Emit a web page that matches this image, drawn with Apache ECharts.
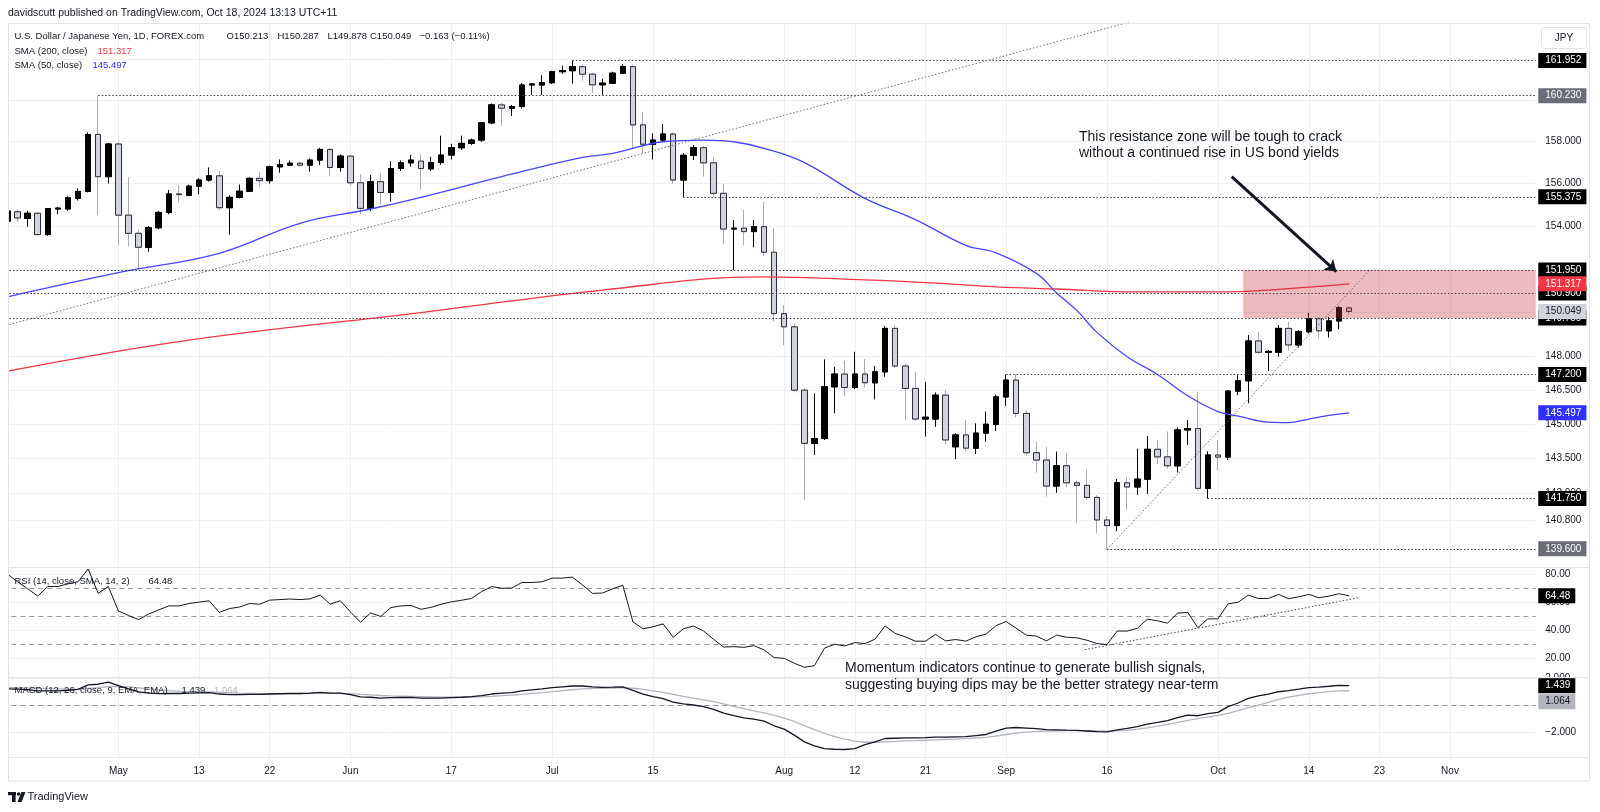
<!DOCTYPE html>
<html><head><meta charset="utf-8">
<script src="https://cdn.jsdelivr.net/npm/echarts@6/dist/echarts.min.js"></script>
<style>html,body{margin:0;padding:0;background:#fff}#c{width:1600px;height:812px}</style>
</head><body><div id="c"></div><script>
// ---------------- DATA ----------------
const dates = [
'2024-04-16','2024-04-17','2024-04-18','2024-04-19','2024-04-22','2024-04-23','2024-04-24','2024-04-25','2024-04-26','2024-04-29','2024-04-30',
'2024-05-01','2024-05-02','2024-05-03','2024-05-06','2024-05-07','2024-05-08','2024-05-09','2024-05-10','2024-05-13','2024-05-14','2024-05-15','2024-05-16','2024-05-17','2024-05-20','2024-05-21','2024-05-22','2024-05-23','2024-05-24','2024-05-27','2024-05-28','2024-05-29','2024-05-30','2024-05-31',
'2024-06-03','2024-06-04','2024-06-05','2024-06-06','2024-06-07','2024-06-10','2024-06-11','2024-06-12','2024-06-13','2024-06-14','2024-06-17','2024-06-18','2024-06-19','2024-06-20','2024-06-21','2024-06-24','2024-06-25','2024-06-26','2024-06-27','2024-06-28',
'2024-07-01','2024-07-02','2024-07-03','2024-07-04','2024-07-05','2024-07-08','2024-07-09','2024-07-10','2024-07-11','2024-07-12','2024-07-15','2024-07-16','2024-07-17','2024-07-18','2024-07-19','2024-07-22','2024-07-23','2024-07-24','2024-07-25','2024-07-26','2024-07-29','2024-07-30','2024-07-31',
'2024-08-01','2024-08-02','2024-08-05','2024-08-06','2024-08-07','2024-08-08','2024-08-09','2024-08-12','2024-08-13','2024-08-14','2024-08-15','2024-08-16','2024-08-19','2024-08-20','2024-08-21','2024-08-22','2024-08-23','2024-08-26','2024-08-27','2024-08-28','2024-08-29','2024-08-30',
'2024-09-02','2024-09-03','2024-09-04','2024-09-05','2024-09-06','2024-09-09','2024-09-10','2024-09-11','2024-09-12','2024-09-13','2024-09-16','2024-09-17','2024-09-18','2024-09-19','2024-09-20','2024-09-23','2024-09-24','2024-09-25','2024-09-26','2024-09-27','2024-09-30',
'2024-10-01','2024-10-02','2024-10-03','2024-10-04','2024-10-07','2024-10-08','2024-10-09','2024-10-10','2024-10-11','2024-10-14','2024-10-15','2024-10-16','2024-10-17','2024-10-18'];
const futureDates = ['2024-10-21','2024-10-22','2024-10-23','2024-10-24','2024-10-25','2024-10-28','2024-10-29','2024-10-30','2024-10-31','2024-11-01','2024-11-04','2024-11-05','2024-11-06','2024-11-07','2024-11-08','2024-11-11','2024-11-12','2024-11-13'];

// [open, high, low, close]
const ohlc = [
[154.23,154.79,154.14,154.70],[154.67,154.75,154.20,154.38],[154.36,154.72,153.97,154.60],[154.60,154.65,153.55,153.60],[153.60,154.85,153.55,154.82],
[154.80,154.90,154.55,154.84],[154.80,155.40,154.70,155.33],[155.30,155.78,155.20,155.63],[155.63,158.45,155.58,158.35],[158.35,160.23,154.50,156.33],
[156.33,157.95,156.00,157.89],[157.89,158.00,153.10,154.51],[154.51,156.30,153.05,153.66],[153.66,153.82,151.95,153.01],[153.01,154.00,152.80,153.92],
[153.92,154.70,153.85,154.64],[154.64,155.70,154.55,155.51],[155.51,155.93,155.13,155.48],[155.45,155.95,155.40,155.88],[155.88,156.25,155.50,156.17],
[156.17,156.77,156.10,156.37],[156.37,156.60,154.75,154.86],[154.86,155.45,153.60,155.35],[155.35,155.96,155.30,155.64],[155.64,156.30,155.60,156.25],
[156.25,156.57,155.85,156.14],[156.14,156.85,156.00,156.80],[156.80,157.15,156.52,156.90],[156.88,157.10,156.83,156.97],[156.97,157.05,156.80,156.88],
[156.88,157.20,156.57,157.12],[157.12,157.71,156.89,157.63],[157.63,157.70,156.36,156.77],[156.77,157.40,156.57,157.31],[157.31,157.35,155.90,156.04],
[156.04,156.45,154.55,154.83],[154.83,156.40,154.70,156.09],[156.09,156.50,155.00,155.58],[155.58,157.07,155.14,156.72],[156.72,157.10,156.60,156.99],
[156.99,157.37,156.80,157.12],[157.07,157.40,155.73,156.72],[156.70,157.28,156.60,157.00],[157.00,158.29,156.90,157.36],[157.36,157.90,157.15,157.71],
[157.71,158.29,157.60,157.92],[157.92,158.15,157.85,158.08],[158.08,158.95,158.00,158.91],[158.91,159.85,158.85,159.78],[159.78,159.90,158.76,159.62],
[159.62,159.78,159.24,159.70],[159.70,160.85,159.60,160.75],[160.75,160.83,160.26,160.80],[160.75,161.23,160.26,160.86],[160.86,161.45,160.80,161.40],
[161.40,161.70,161.30,161.45],[161.45,161.952,160.82,161.65],[161.65,161.75,160.97,161.28],[161.28,161.35,160.34,160.76],[160.76,161.06,160.26,160.84],
[160.84,161.40,160.80,161.33],[161.33,161.78,161.30,161.65],[161.65,161.75,157.68,158.81],[158.81,159.45,157.44,157.88],[157.88,158.40,157.15,158.08],
[158.08,158.85,158.00,158.37],[158.37,158.45,156.00,156.17],[156.17,157.45,155.375,157.35],[157.35,157.85,157.12,157.71],[157.71,157.80,156.33,156.99],
[156.99,157.27,155.40,155.54],[155.54,156.00,153.16,153.86],[153.86,154.28,151.95,153.90],[153.90,154.75,153.12,153.74],[153.74,154.28,153.01,153.97],
[153.97,155.14,152.60,152.78],[152.78,153.90,149.60,149.95],[149.95,150.34,148.52,149.35],[149.35,149.50,146.40,146.50],[146.50,146.60,141.70,144.15],
[144.15,146.36,143.64,144.36],[144.36,147.88,144.30,146.65],[146.65,147.55,145.47,147.22],[147.22,147.82,146.24,146.62],[146.62,148.22,146.55,147.22],
[147.22,147.90,146.62,146.83],[146.83,147.58,146.09,147.32],[147.32,149.38,147.10,149.28],[149.28,149.40,147.50,147.58],[147.58,147.70,145.18,146.58],
[146.58,147.32,145.15,145.22],[145.22,146.87,144.45,145.30],[145.22,146.40,144.88,146.28],[146.28,146.50,144.10,144.30],[144.00,144.60,143.45,144.52],
[144.52,145.18,143.80,143.94],[143.94,145.03,143.68,144.60],[144.60,145.55,144.22,144.99],[144.99,146.30,144.70,146.20],[146.20,147.20,145.80,146.95],
[146.95,147.22,145.30,145.47],[145.47,145.60,143.60,143.74],[143.74,144.22,142.87,143.42],[143.42,144.00,141.83,142.29],[142.29,143.79,142.00,143.17],
[143.17,143.71,142.24,142.43],[142.43,142.50,140.72,142.32],[142.32,143.00,141.70,141.80],[141.80,141.90,140.28,140.83],[140.83,141.00,139.58,140.59],
[140.59,142.60,140.35,142.43],[142.43,142.70,141.26,142.25],[142.25,143.92,141.90,142.59],[142.59,144.48,141.95,143.89],[143.89,144.30,143.25,143.56],
[143.56,144.67,143.05,143.17],[143.17,144.85,142.88,144.74],[144.74,145.18,144.08,144.80],[144.80,146.43,142.10,142.19],[142.19,143.80,141.75,143.64],
[143.64,144.30,142.98,143.55],[143.55,146.50,143.42,146.46],[146.46,147.17,146.28,146.92],[146.92,148.98,145.92,148.71],[148.71,149.13,148.10,148.20],
[148.20,148.30,147.36,148.24],[148.20,149.43,148.00,149.28],[149.28,149.58,148.27,148.53],[148.53,149.20,148.42,149.13],[149.13,149.99,149.05,149.72],
[149.72,149.80,148.83,149.17],[149.17,149.80,148.87,149.62],[149.62,150.29,149.24,150.22],[150.213,150.287,149.878,150.049]];

// SMA lines read at sample dates
const sma200 = [['2024-04-16',147.35],['2024-05-10',148.75],['2024-06-12',150.0],['2024-07-08',151.03],['2024-07-30',151.64],['2024-08-13',151.50],['2024-08-22',151.35],['2024-08-30',151.18],['2024-09-09',151.08],['2024-09-19',150.95],['2024-10-02',150.95],['2024-10-10',151.10],['2024-10-18',151.317]];
const sma50 = [['2024-04-16',150.72],['2024-05-01',151.83],['2024-05-15',152.73],['2024-05-27',154.13],['2024-06-05',154.8],['2024-06-12',155.35],['2024-06-24',156.33],['2024-07-04',157.25],['2024-07-09',157.44],['2024-07-16',158.0],['2024-07-22',158.08],['2024-07-25',158.0],['2024-07-30',157.68],['2024-08-05',157.0],['2024-08-13',155.3],['2024-08-20',154.3],['2024-08-27',153.1],['2024-08-30',152.75],['2024-09-05',151.8],['2024-09-09',150.9],['2024-09-11',150.1],['2024-09-13',149.1],['2024-09-18',148.0],['2024-09-23',147.2],['2024-09-26',146.25],['2024-10-01',145.55],['2024-10-03',145.35],['2024-10-08',145.08],['2024-10-10',145.06],['2024-10-14',145.22],['2024-10-16',145.38],['2024-10-18',145.497]];

const rsi = [
80,74.5,69.5,64.3,71.1,71.1,73,74.5,83.6,66.2,
71.1,53.7,50.5,47.6,51.5,54.5,57.3,57.3,59,60,
60.9,52.7,55.4,56.5,59,58.5,61.4,61.8,62.2,61.8,
62.3,65,58.5,61,53,45.7,52.3,49.8,56.1,57.3,
57.6,54.9,56.3,58.5,60.2,61.3,62.6,67.5,71.1,69.9,
70,74,74,74.5,77.1,77.1,77.8,72.3,66.2,66.5,
69.5,72,46,41,42.5,44.5,35,41,43,39.5,
33.5,28,28.3,27.8,29,26,20.5,20,16.5,13.6,
14.8,27.3,30,28.8,31.2,30.5,33.6,43,37.7,35.3,
32.2,32.2,37,32.4,33.4,32.2,35.3,37.2,43.3,46.2,
41.4,36.5,35.8,32.4,36.5,35,34.6,32.9,30.5,29.8,
39.4,39.4,41.4,47.9,46.7,45,52.2,52.7,41.8,48.1,
48.1,58.8,59.9,65,62.6,62.6,65.5,62.4,63.8,65.5,
63.1,64.3,66,64.48];

const macd = [
1.20,1.18,1.15,1.05,1.05,1.06,1.10,1.17,1.50,1.55,
1.70,1.45,1.20,0.98,0.88,0.85,0.86,0.86,0.88,0.90,
0.93,0.82,0.78,0.78,0.80,0.80,0.82,0.84,0.86,0.86,
0.88,0.94,0.88,0.88,0.78,0.60,0.58,0.52,0.55,0.56,
0.57,0.52,0.51,0.52,0.55,0.58,0.62,0.70,0.82,0.88,
0.93,1.05,1.13,1.20,1.30,1.36,1.42,1.42,1.36,1.32,
1.33,1.36,1.10,0.82,0.62,0.48,0.22,0.08,0.0,-0.12,
-0.32,-0.60,-0.80,-0.96,-1.05,-1.20,-1.55,-1.80,-2.25,-2.75,
-3.05,-3.25,-3.30,-3.32,-3.25,-2.95,-2.75,-2.50,-2.48,-2.46,
-2.45,-2.44,-2.40,-2.40,-2.38,-2.36,-2.28,-2.20,-1.95,-1.72,
-1.68,-1.72,-1.76,-1.84,-1.85,-1.88,-1.90,-1.94,-1.99,-2.00,
-1.85,-1.75,-1.62,-1.42,-1.30,-1.17,-0.95,-0.75,-0.80,-0.65,
-0.55,-0.12,0.15,0.50,0.68,0.82,0.99,1.08,1.18,1.29,
1.34,1.40,1.47,1.439];
const signal = [
1.32,1.30,1.28,1.25,1.22,1.20,1.18,1.18,1.24,1.30,
1.38,1.39,1.35,1.28,1.20,1.13,1.07,1.03,1.00,0.98,
0.97,0.94,0.91,0.88,0.87,0.85,0.85,0.85,0.85,0.85,
0.86,0.87,0.87,0.87,0.85,0.80,0.76,0.71,0.68,0.66,
0.64,0.62,0.60,0.58,0.58,0.58,0.59,0.61,0.65,0.70,
0.74,0.80,0.87,0.93,1.00,1.07,1.14,1.20,1.23,1.25,
1.27,1.29,1.25,1.17,1.06,0.94,0.80,0.65,0.52,0.39,
0.25,0.08,-0.10,-0.27,-0.43,-0.58,-0.78,-0.98,-1.23,-1.54,
-1.84,-2.12,-2.36,-2.55,-2.69,-2.78,-2.78,-2.75,-2.72,-2.68,
-2.66,-2.63,-2.60,-2.57,-2.54,-2.51,-2.46,-2.41,-2.32,-2.20,
-2.10,-2.02,-1.97,-1.94,-1.92,-1.91,-1.91,-1.92,-1.93,-1.95,
-1.93,-1.89,-1.80,-1.70,-1.58,-1.45,-1.30,-1.15,-1.02,-0.90,
-0.78,-0.62,-0.42,-0.20,0.00,0.20,0.42,0.58,0.72,0.84,
0.93,1.00,1.05,1.064];

// axis tick labels
const timeTicks = [['2024-05-01','May'],['2024-05-13','13'],['2024-05-22','22'],['2024-06-03','Jun'],['2024-06-17','17'],['2024-07-01','Jul'],['2024-07-15','15'],['2024-08-01','Aug'],['2024-08-12','12'],['2024-08-21','21'],['2024-09-02','Sep'],['2024-09-16','16'],['2024-10-01','Oct'],['2024-10-14','14'],['2024-10-23','23'],['2024-11-01','Nov']];
const priceTicks = [162, 160, 158, 156, 154, 152, 150, 148, 146.5, 145, 143.5, 142, 140.8];
const rsiTicks = [80, 60, 40, 20];
const rsiBands = [70, 50, 30];
const macdTicks = [2, 0, -2];

// horizontal levels: [price, start date or null = whole width]
const levels = [[161.952,'2024-07-03'],[160.230,'2024-04-29'],[155.375,'2024-07-18'],[151.950,null],[150.900,null],[149.750,null],[147.200,'2024-09-02'],[141.750,'2024-09-30'],[139.600,'2024-09-16']];
// price tags: [value, text, kind]
const priceTags = [[150.900,'150.900','level'],[149.750,'149.750','level'],[161.952,'161.952','level'],[160.230,'160.230','grey'],[155.375,'155.375','level'],[151.950,'151.950','level'],[147.200,'147.200','level'],[141.750,'141.750','level'],[139.600,'139.600','grey'],[151.317,'151.317','sma200'],[150.049,'150.049','last'],[145.497,'145.497','sma50']];
// trend lines in [bar index, value]
const trendLong = [[-0.5,149.37],[112,163.96]];
const trendSupport = [[109,139.58],[135,151.92]];
const rsiTrend = [[106.8,26.2],[134,63.2]];
const zone = [[122.5,151.95],[151.5,149.75]];
const arrow = [[121.36,156.33],[131.73,151.88]];

// ---------------- CHART ----------------
const FONT = "'Liberation Sans', Arial, sans-serif";
const TXT = '#131722';
const allCats = dates.concat(futureDates);
const N = allCats.length;
const BW = 10.088, GL = 2.386, GW = N * BW;
const tickMap = new Map(timeTicks);
const grids = [
  {left: GL, width: GW, top: 23, height: 544},
  {left: GL, width: GW, top: 567, height: 110},
  {left: GL, width: GW, top: 677, height: 80}
];
const tagStyle = {
  level: {bg:'#000000', fg:'#ffffff'}, grey: {bg:'#6a6d78', fg:'#ffffff'},
  sma200: {bg:'#f23645', fg:'#ffffff'}, sma50: {bg:'#2f2fff', fg:'#ffffff'},
  last: {bg:'#d1d4dc', fg:TXT}, macd: {bg:'#000000', fg:'#ffffff'}, sig: {bg:'#b2b5be', fg:TXT}
};
const baseLabel = {show:true, position:'end', distance:2.5, fontSize:10, fontFamily:FONT, padding:[2,5,2,7], lineHeight:11};

function gridSeries(xi, yi, ticks, fmt) {
  return {type:'line', xAxisIndex:xi, yAxisIndex:yi, data:[], silent:true, z:1,
    markLine:{z:1, silent:true, symbol:'none', animation:false, precision:4,
      lineStyle:{color:'#eef0f4', width:1, type:'solid'},
      label:Object.assign({}, baseLabel, {color:TXT, padding:[0,5,0,7]}),
      data: ticks.map(v => ({yAxis:v, label:{formatter: fmt(v)}}))
        .concat(timeTicks.map(t => ({xAxis:t[0], label:{show:false}})))}};
}
function tagSeries(xi, yi, tags) {
  return {type:'line', xAxisIndex:xi, yAxisIndex:yi, data:[], silent:true, z:9,
    markLine:{z:9, silent:true, symbol:'none', animation:false, precision:4,
      lineStyle:{color:'rgba(0,0,0,0)', width:1},
      label:Object.assign({}, baseLabel),
      data: tags.map(t => ({yAxis:t[0], label:Object.assign({formatter:t[1], color:tagStyle[t[2]].fg, backgroundColor:tagStyle[t[2]].bg}, t[3] ? {offset:[0, t[3]]} : {})}))}};
}
function dotted(xi, yi, pts, color, z) {
  return {type:'line', xAxisIndex:xi, yAxisIndex:yi, data:pts, silent:true, symbol:'none', showSymbol:false, z:z||7,
    lineStyle:{color:color, width:1, type:[1.5,2]}, animation:false};
}
const minus = v => (v < 0 ? '\u2212' : '') + Math.abs(v).toFixed(3);

const series = [];
// main pane
series.push(gridSeries(0, 0, priceTicks, v => v.toFixed(3)));
series.push({type:'candlestick', xAxisIndex:0, yAxisIndex:0, silent:true, z:3, barWidth:6,
  data: ohlc.map(r => [r[0], r[3], r[2], r[1]]),
  itemStyle:{color:'#000000', color0:'#d1d4dc', borderColor:'#000000', borderColor0:'#a8abb4', borderWidth:1}});
series.push({type:'candlestick', xAxisIndex:0, yAxisIndex:0, silent:true, z:4, barWidth:6,
  data: ohlc.map(r => [r[0], r[3], Math.min(r[0], r[3]), Math.max(r[0], r[3])]),
  itemStyle:{color:'#000000', color0:'#d1d4dc', borderColor:'#000000', borderColor0:'#2a2e39', borderWidth:1}});
series.push({type:'line', xAxisIndex:0, yAxisIndex:0, data:sma200, smooth:0.4, symbol:'none', silent:true, z:5, lineStyle:{color:'#f23645', width:1.3}});
series.push({type:'line', xAxisIndex:0, yAxisIndex:0, data:sma50, smooth:0.4, symbol:'none', silent:true, z:5, lineStyle:{color:'#4646ff', width:1.3}});
series.push({type:'line', xAxisIndex:1, yAxisIndex:0, data:[], silent:true, z:6,
  markArea:{z:6, silent:true, itemStyle:{color:'rgba(200,40,50,0.32)'}, data:[[{coord:zone[0]},{coord:zone[1]}]]}});
series.push({type:'line', xAxisIndex:1, yAxisIndex:0, data:[], silent:true, z:7,
  markLine:{z:7, silent:true, symbol:'none', animation:false, label:{show:false}, precision:4,
    lineStyle:{color:'#3d4049', width:1, type:[1.5,2]},
    data: levels.map(l => [{coord:[l[1] ? dates.indexOf(l[1]) : -0.5, l[0]]}, {coord:[N - 0.5, l[0]]}])}});
series.push(dotted(1, 0, trendLong, '#6a6d78'));
series.push(dotted(1, 0, trendSupport, '#6a6d78'));
series.push({type:'line', xAxisIndex:1, yAxisIndex:0, data:[], silent:true, z:8,
  markLine:{z:8, silent:true, symbol:['none','arrow'], symbolSize:11, animation:false, label:{show:false}, precision:4,
    lineStyle:{color:TXT, width:3, type:'solid'},
    data:[[{coord:arrow[0]},{coord:arrow[1]}]]}});
series.push(tagSeries(0, 0, priceTags));
// RSI pane
series.push(gridSeries(2, 1, rsiTicks, v => v.toFixed(2)));
series.push({type:'line', xAxisIndex:2, yAxisIndex:1, data:[], silent:true, z:2,
  markLine:{z:2, silent:true, symbol:'none', animation:false, label:{show:false},
    lineStyle:{color:'#9598a1', width:1, type:[5,4]}, data: rsiBands.map(v => ({yAxis:v}))}});
series.push({type:'line', xAxisIndex:2, yAxisIndex:1, data:rsi, symbol:'none', silent:true, z:5, lineStyle:{color:TXT, width:1}});
series.push(dotted(3, 1, rsiTrend, '#3d4049'));
series.push(tagSeries(2, 1, [[64.48,'64.48','level']]));
// MACD pane
series.push(gridSeries(4, 2, macdTicks, minus));
series.push({type:'line', xAxisIndex:4, yAxisIndex:2, data:[], silent:true, z:2,
  markLine:{z:2, silent:true, symbol:'none', animation:false, label:{show:false},
    lineStyle:{color:'#9598a1', width:1, type:[5,4]}, data:[{yAxis:0}]}});
series.push({type:'line', xAxisIndex:4, yAxisIndex:2, data:signal, symbol:'none', silent:true, z:5, lineStyle:{color:'#b2b5be', width:1.3}});
series.push({type:'line', xAxisIndex:4, yAxisIndex:2, data:macd, symbol:'none', silent:true, z:6, lineStyle:{color:TXT, width:1.3}});
series.push(tagSeries(4, 2, [[1.439,'1.439','macd'],[1.064,'1.064','sig',11]]));

const hiddenCat = gi => ({type:'category', gridIndex:gi, data:allCats, boundaryGap:true, show:false, axisLine:{show:false}, axisTick:{show:false}, axisLabel:{show:false}});
const hiddenVal = gi => ({type:'value', gridIndex:gi, min:-0.5, max:N - 0.5, show:false});

function T(x, y, text, o) {
  o = o || {};
  return {type:'text', x:x, y:y, z:o.z || 50, silent:true,
    style:{text:text, fill:o.color || TXT, fontSize:o.size || 9.5, fontFamily:FONT, align:o.align || 'left', verticalAlign:'middle', textVerticalAlign:'middle', fontWeight:o.weight || 'normal'}};
}
const L = (x1, y1, x2, y2, c) => ({type:'line', z:60, silent:true, shape:{x1, y1, x2, y2}, style:{stroke:c || '#e0e3eb', lineWidth:1}});

const graphics = [
  {type:'rect', z:58, silent:true, shape:{x:0, y:23, width:8.5, height:760}, style:{fill:'#ffffff'}},
  {type:'rect', z:60, silent:true, shape:{x:8.5, y:23.5, width:1581, height:757.5}, style:{fill:'none', stroke:'#e0e3eb', lineWidth:1}},
  L(8.5, 567.5, 1589.5, 567.5), L(8.5, 677.5, 1589.5, 677.5), L(8.5, 757.5, 1589.5, 757.5),
  {type:'rect', z:60, silent:true, shape:{x:1541.5, y:27.5, width:45, height:21, r:3}, style:{fill:'#ffffff', stroke:'#e0e3eb', lineWidth:1}},
  T(1564, 38.5, 'JPY', {align:'center', z:61, size:10}),
  T(8, 13.5, 'davidscutt published on TradingView.com, Oct 18, 2024 13:13 UTC+11', {size:10.5}),
  T(14.5, 36.5, 'U.S. Dollar / Japanese Yen, 1D, FOREX.com'),
  T(226.5, 36.5, 'O150.213'), T(277.5, 36.5, 'H150.287'), T(327.5, 36.5, 'L149.878'), T(370, 36.5, 'C150.049'),
  T(419.5, 36.5, '\u22120.163 (\u22120.11%)'),
  T(14.5, 51.5, 'SMA (200, close)'), T(97.5, 51.5, '151.317', {color:'#f23645'}),
  T(14.5, 65.5, 'SMA (50, close)'), T(92.5, 65.5, '145.497', {color:'#2f2fff'}),
  T(14.5, 581, 'RSI (14, close, SMA, 14, 2)'), T(148.5, 581, '64.48'),
  T(14.5, 690.5, 'MACD (12, 26, close, 9, EMA, EMA)'), T(181.5, 690.5, '1.439'), T(214, 690.5, '1.064', {color:'#b2b5be'}),
  T(1079, 136.7, 'This resistance zone will be tough to crack', {size:14}),
  T(1079, 153.3, 'without a continued rise in US bond yields', {size:14}),
  T(845, 668.5, 'Momentum indicators continue to generate bullish signals,', {size:14}),
  T(845, 685.5, 'suggesting buying dips may be the better strategy near-term', {size:14}),
  {type:'rect', z:60, silent:true, shape:{x:8, y:792, width:8, height:3.2}, style:{fill:TXT}},
  {type:'rect', z:60, silent:true, shape:{x:12, y:792, width:3.6, height:10}, style:{fill:TXT}},
  {type:'circle', z:60, silent:true, shape:{cx:18.6, cy:794, r:1.8}, style:{fill:TXT}},
  {type:'polygon', z:60, silent:true, shape:{points:[[21.5,792],[25.5,792],[21.5,802],[17.5,802]]}, style:{fill:TXT}},
  T(27.5, 797, 'TradingView', {size:11})
];

const option = {
  animation:false,
  backgroundColor:'#ffffff',
  grid: grids,
  xAxis: [hiddenCat(0), hiddenVal(0), hiddenCat(1), hiddenVal(1),
    {type:'category', gridIndex:2, data:allCats, boundaryGap:true,
      axisLine:{show:false}, axisTick:{show:false}, splitLine:{show:false},
      axisLabel:{show:true, interval:(i, v) => tickMap.has(v), formatter:v => tickMap.get(v) || '', color:TXT, fontSize:10, fontFamily:FONT, margin:9}}],
  yAxis: [
    {type:'log', logBase:10, gridIndex:0, min:138.83, max:163.81, show:false, splitLine:{show:false}},
    {type:'value', gridIndex:1, min:6.7, max:85.0, show:false, splitLine:{show:false}},
    {type:'value', gridIndex:2, min:-3.88, max:2.09, show:false, splitLine:{show:false}}
  ],
  series: series,
  graphic: {elements: graphics}
};
const chart = echarts.init(document.getElementById('c'), null, {renderer:'canvas'});
chart.setOption(option);
</script></body></html>
